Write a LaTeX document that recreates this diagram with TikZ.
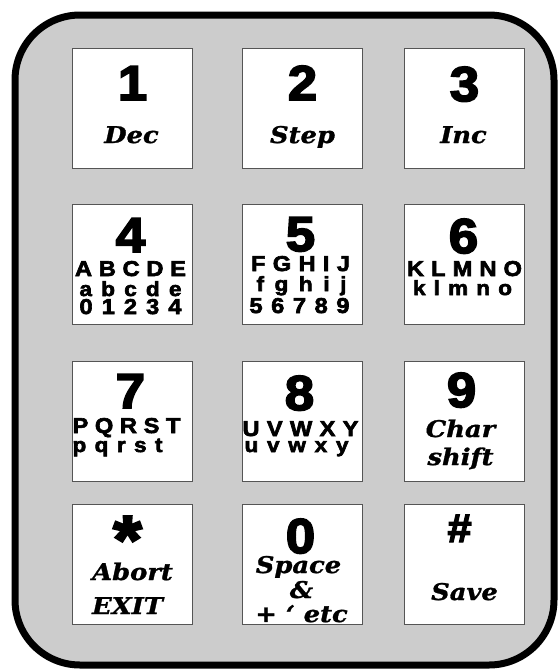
\documentclass[tikz,border=0pt]{standalone}
\usepackage{fontspec}
\usetikzlibrary{calc}
\newfontfamily\digfont{Liberation Sans}[FakeStretch=1.08, BoldFeatures={FakeBold=3.5}]
\newfontfamily\ltrfont{Liberation Sans}[FakeStretch=1.1, BoldFeatures={FakeBold=3}]
\newfontfamily\labfont{DejaVu Serif}[FakeStretch=1.12, BoldItalicFeatures={FakeBold=1.2}]
\definecolor{padgray}{RGB}{204,204,204}
\definecolor{keyline}{RGB}{85,85,85}
\begin{document}
\begin{tikzpicture}[x=1pt,y=-1pt,
  keybox/.style={draw=keyline, line width=1pt, fill=white, minimum width=120pt, minimum height=120pt, inner sep=0pt, anchor=north west},
  dig/.style={font=\digfont\bfseries\fontsize{49}{49}\selectfont, inner sep=0pt, anchor=base},
  ltr/.style={font=\ltrfont\bfseries\fontsize{21.5}{21.5}\selectfont, inner sep=0pt, anchor=base},
  lwr/.style={font=\ltrfont\bfseries\fontsize{20.5}{20.5}\selectfont, inner sep=0pt, anchor=base},
  lab/.style={font=\labfont\bfseries\itshape\fontsize{23}{23}\selectfont, inner sep=0pt, anchor=base},
]
\useasboundingbox (0,0) rectangle (560,670);
\draw[line width=7pt, fill=padgray, rounded corners=65pt] (15,15) rectangle (554,665);

% keys
\node[keybox] (k1) at (72,48) {};
\node[keybox] (k2) at (242,48) {};
\node[keybox] (k3) at (404,48) {};
\node[keybox] (k4) at (72,204) {};
\node[keybox] (k5) at (242,204) {};
\node[keybox] (k6) at (404,204) {};
\node[keybox] (k7) at (72,361) {};
\node[keybox] (k8) at (242,361) {};
\node[keybox] (k9) at (404,361) {};
\node[keybox] (ks) at (72,504) {};
\node[keybox] (k0) at (242,504) {};
\node[keybox] (kh) at (404,504) {};

% row 1
\node[dig] (d1) at ($(k1.north)+(0,52)$) {1};
\node[lab] (l1) at ($(k1.north)+(-1,95)$) {Dec};
\node[dig] (d2) at ($(k2.north)+(0,52)$) {2};
\node[lab] (l2) at ($(k2.north)+(0,95)$) {Step};
\node[dig] (d3) at ($(k3.north)+(0,53)$) {3};
\node[lab] (l3) at ($(k3.north)+(-1,95)$) {Inc};

% row 2
\node[dig] (d4) at ($(k4.north)+(-2,48)$) {4};
\node[ltr] (r4a) at ($(k4.north)+(-2,72)$) {\makebox[111pt][s]{A B C D E}};
\node[lwr] (r4b) at ($(k4.north)+(-2,92)$) {\makebox[102pt][s]{a b c d e}};
\node[ltr] (r4c) at ($(k4.north)+(-2,110)$) {\makebox[102pt][s]{0 1 2 3 4}};
\node[dig] (d5) at ($(k5.north)+(-2,47)$) {5};
\node[ltr] (r5a) at ($(k5.north)+(-2,67)$) {\makebox[99pt][s]{F G H I J}};
\node[lwr] (r5b) at ($(k5.north)+(-1,87)$) {\makebox[90pt][s]{f g h i j}};
\node[ltr] (r5c) at ($(k5.north)+(-3,109)$) {\makebox[100pt][s]{5 6 7 8 9}};
\node[dig] (d6) at ($(k6.north)+(-1,49)$) {6};
\node[ltr] (r6a) at ($(k6.north)+(0,72)$) {\makebox[115pt][s]{K L M N O}};
\node[lwr] (r6b) at ($(k6.north)+(-2,91)$) {\makebox[99pt][s]{k l m n o}};

% row 3
\node[dig] (d7) at ($(k7.north)+(-2,47)$) {7};
\node[ltr] (r7a) at ($(k7.north)+(-6,72)$) {\makebox[108pt][s]{P Q R S T}};
\node[lwr] (r7b) at ($(k7.north)+(-15,91)$) {\makebox[90pt][s]{p q r s t}};
\node[dig] (d8) at ($(k8.north)+(-3,49)$) {8};
\node[ltr] (r8a) at ($(k8.north)+(-2,75)$) {\makebox[116pt][s]{U V W X Y}};
\node[lwr] (r8b) at ($(k8.north)+(-6,91)$) {\makebox[104pt][s]{u v w x y}};
\node[dig] (d9) at ($(k9.north)+(-3,46)$) {9};
\node[lab] (l9a) at ($(k9.north)+(-4,76)$) {Char};
\node[lab] (l9b) at ($(k9.north)+(-4,104)$) {shift};

% row 4
\node[font=\digfont\bfseries\fontsize{68}{68}\selectfont, inner sep=0pt, anchor=north] (ds) at ($(ks.north)+(-5,12)$) {*};
\node[lab] (lsa) at ($(ks.north)+(0,76)$) {Abort};
\node[lab] (lsb) at ($(ks.north)+(-5,110)$) {EXIT};
\node[dig] (d0) at ($(k0.north)+(-2,49)$) {0};
\node[lab] (l0a) at ($(k0.north)+(-4,69)$) {Space};
\node[lab] (l0b) at ($(k0.north)+(-1,94)$) {\&};
\node[lab] (l0c) at ($(k0.north)+(-1,118)$) {+ ‘ etc};
\node[font=\digfont\bfseries\fontsize{40}{40}\selectfont, inner sep=0pt, anchor=base] (dh) at ($(kh.north)+(-5,38)$) {\#};
\node[lab] (lh) at ($(kh.north)+(0,96)$) {Save};
\end{tikzpicture}
\end{document}
